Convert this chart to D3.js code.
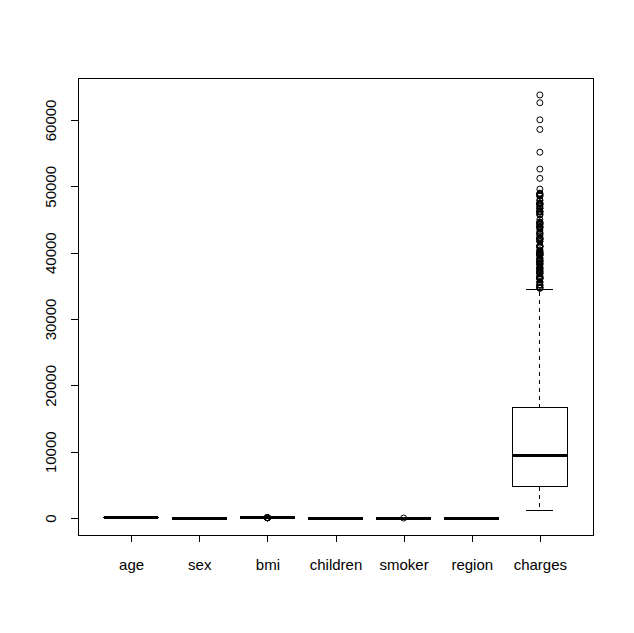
<!DOCTYPE html>
<html>
<head>
<meta charset="utf-8">
<script src="https://cdn.jsdelivr.net/npm/d3@7"></script>
<style>
  body { margin: 0; background: #fff; }
  text { font-family: "Liberation Sans", Arial, sans-serif; }
  line, rect { shape-rendering: crispEdges; }
</style>
</head>
<body>
<svg id="chart"></svg>
<script>
// variables of insurance data (factors coded as numbers)
var names = ["age", "sex", "bmi", "children", "smoker", "region", "charges"];
// lower whisker, Q1, median, Q3, upper whisker
var lowWhisk = [18, 1, 15.96, 0, 1, 1, 1121.87];
var q1 = [27, 1, 26.30, 0, 1, 2, 4740.29];
var med = [39, 2, 30.40, 1, 1, 3, 9382.03];
var q3 = [51, 2, 34.69, 2, 1, 3, 16639.91];
var highWhisk = [64, 2, 46.75, 5, 1, 4, 34472.84];

var bmiOut = [47.41, 47.52, 47.60, 47.74, 48.07, 49.06, 50.38, 52.58, 53.13];
var smokerOut = [2];
var chargesOut = [63770.43, 62592.87, 60021.40, 58571.07, 55135.40, 52590.83, 51194.56, 49577.66,
  48970.25, 48885.14, 48824.45, 48675.52, 48673.56, 48549.18, 48517.56, 47928.03, 47896.79,
  47496.49, 47462.89, 47403.88, 47305.31, 47291.06, 47269.85, 47055.53, 46889.26, 46718.16,
  46661.44, 46599.11, 46255.11, 46200.99, 46151.12, 46130.53, 46113.51, 45863.21, 45710.21,
  45702.02, 45008.96, 44641.20, 44585.46, 44501.40, 44423.80, 44400.41, 44260.75, 44202.65,
  43943.88, 43921.18, 43896.38, 43813.87, 43753.34, 43578.94, 43254.42, 42983.46, 42969.85,
  42856.84, 42760.50, 42560.43, 42303.69, 42211.14, 42124.52, 42112.24, 42111.66, 41999.52,
  41949.24, 41919.10, 41676.08, 41661.60, 41097.16, 41034.22, 40974.16, 40941.29, 40932.43,
  40904.20, 40720.55, 40419.02, 40273.65, 40182.25, 40103.89, 40003.33, 39983.43, 39871.70,
  39836.52, 39774.28, 39727.61, 39725.52, 39611.76, 39597.41, 39556.49, 39241.44, 39125.33,
  39047.29, 38998.55, 38792.69, 38746.36, 38711.00, 38709.18, 38511.63, 38415.47, 38344.57,
  38282.75, 38245.59, 38126.25, 37829.72, 37742.58, 37701.88, 37607.53, 37484.45, 37465.34,
  37270.15, 37165.16, 37133.90, 37079.37, 36950.26, 36910.61, 36898.73, 36837.47, 36580.28,
  36397.58, 36307.80, 36219.41, 36197.70, 36189.10, 36149.48, 36124.57, 36085.22, 36021.01,
  35595.59, 35585.58, 35491.64, 35160.13, 35147.53, 35069.37, 34838.87, 34806.47, 34779.62,
  34672.15, 34617.84];
var yTicks = [0, 10000, 20000, 30000, 40000, 50000, 60000];

var W = 634, H = 633;
var margin = { top: 78, right: 41, bottom: 98, left: 78 };
var width = W - margin.left - margin.right,
    height = H - margin.top - margin.bottom;

var svg = d3.select("#chart")
    .attr("width", W)
    .attr("height", H)
    .append("g")
    .attr("transform", "translate(" + margin.left + "," + margin.top + ")");

// R style 4% extension
var x = d3.scaleLinear().domain([0.22, 7.78]).range([0, width]);
var yMin = 0, yMax = 63770.43, ext = (yMax - yMin) * 0.04;
var y = d3.scaleLinear().domain([yMin - ext, yMax + ext]).range([height, 0]);

var boxW = (x(1.4) - x(0.6));
var capW = boxW / 2;

var data = names.map(function (n, i) {
  return { name: n, i: i + 1, lo: lowWhisk[i], q1: q1[i], med: med[i], q3: q3[i], hi: highWhisk[i] };
});

var outs = [];
bmiOut.forEach(function (v) { outs.push({ i: 3, v: v }); });
smokerOut.forEach(function (v) { outs.push({ i: 5, v: v }); });
chargesOut.forEach(function (v) { outs.push({ i: 7, v: v }); });

var g = svg.selectAll("g.box").data(data).enter().append("g").attr("class", "box");

// whiskers (dashed)
g.append("line")
  .attr("x1", d => x(d.i)).attr("x2", d => x(d.i))
  .attr("y1", d => y(d.q3)).attr("y2", d => y(d.hi))
  .attr("stroke", "#000").attr("stroke-dasharray", "4,4");
g.append("line")
  .attr("x1", d => x(d.i)).attr("x2", d => x(d.i))
  .attr("y1", d => y(d.q1)).attr("y2", d => y(d.lo))
  .attr("stroke", "#000").attr("stroke-dasharray", "4,4");

// caps
g.append("line")
  .attr("x1", d => x(d.i) - capW / 2).attr("x2", d => x(d.i) + capW / 2)
  .attr("y1", d => y(d.hi)).attr("y2", d => y(d.hi))
  .attr("stroke", "#000");
g.append("line")
  .attr("x1", d => x(d.i) - capW / 2).attr("x2", d => x(d.i) + capW / 2)
  .attr("y1", d => y(d.lo)).attr("y2", d => y(d.lo))
  .attr("stroke", "#000");

// box
g.append("rect")
  .attr("x", d => x(d.i) - boxW / 2)
  .attr("width", boxW)
  .attr("y", d => y(d.q3))
  .attr("height", d => Math.max(0, y(d.q1) - y(d.q3)))
  .attr("fill", "none").attr("stroke", "#000");

// median
g.append("line")
  .attr("x1", d => x(d.i) - boxW / 2).attr("x2", d => x(d.i) + boxW / 2)
  .attr("y1", d => y(d.med)).attr("y2", d => y(d.med))
  .attr("stroke", "#000").attr("stroke-width", 3);

// outliers
svg.selectAll("circle.out").data(outs).enter().append("circle")
  .attr("class", "out")
  .attr("cx", d => x(d.i))
  .attr("cy", d => y(d.v))
  .attr("r", 3)
  .attr("fill", "none")
  .attr("stroke", "#000");

// frame
svg.append("rect")
  .attr("width", width).attr("height", height)
  .attr("fill", "none").attr("stroke", "#000");

// y axis
var yAxis = svg.append("g")
  .call(d3.axisLeft(y).tickValues(yTicks).tickSize(7).tickFormat(d3.format("d")));
yAxis.select(".domain").remove();
yAxis.selectAll(".tick text")
  .attr("x", 0).attr("y", 0)
  .attr("dx", null).attr("dy", null)
  .style("text-anchor", "middle")
  .attr("font-size", "15px")
  .attr("transform", "translate(-22,0) rotate(-90)");

// x axis
var xAxis = svg.append("g")
  .attr("transform", "translate(0," + height + ")")
  .call(d3.axisBottom(x).tickValues(d3.range(1, 8)).tickSize(7).tickFormat(d => names[d - 1]));
xAxis.select(".domain").remove();
xAxis.selectAll(".tick text")
  .attr("y", 0).attr("dy", null)
  .attr("transform", "translate(0,35)")
  .attr("font-size", "15px");

svg.selectAll(".tick line").attr("stroke", "#000");
svg.selectAll(".tick text").attr("fill", "#000").attr("font-family", '"Liberation Sans", Arial, sans-serif');
</script>
</body>
</html>
